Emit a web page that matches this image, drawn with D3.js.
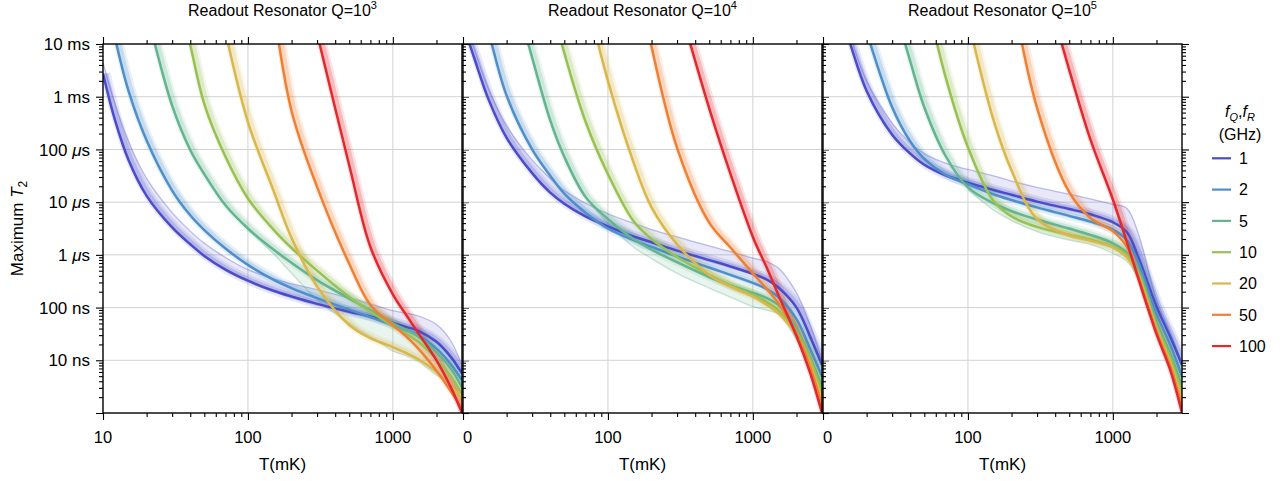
<!DOCTYPE html>
<html>
<head>
<meta charset="utf-8">
<script src="https://cdn.jsdelivr.net/npm/d3@7"></script>
<style>
  body { margin: 0; background: #fff; }
  svg { display: block; font-family: "Liberation Sans", Arial, sans-serif; }
  .grid { stroke: #d2d2d2; stroke-width: 1; }
  .ticks line { stroke: #000; stroke-width: 1.1; }
  .frame { fill: none; stroke: #000; stroke-width: 1.4; }
</style>
</head>
<body>
<script>
(function(){
    var temps = [10, 12, 15, 20, 30, 40, 50, 70, 100, 150, 200, 300, 500, 700, 1000, 1250, 1500, 2000, 2500, 3000];

    //qubit / resonator frequencies (GHz), one curve family each
    var freqs = [1, 2, 5, 10, 20, 50, 100];
    var colors = ["#4a4cc9", "#4f8fc9", "#63b48f", "#98c154", "#d9b74c", "#ee8035", "#e2292d"];

    //resonator Q exponent of each panel
    var qExp = ["3", "4", "5"];

    //log10 of maximum T2 (s), one row per frequency, aligned with temps
    var q3 = [
        [-2.56, -3.41, -4.20, -4.88, -5.48, -5.80, -6.02, -6.28, -6.49, -6.68, -6.79, -6.93, -7.08, -7.17, -7.29, -7.37, -7.44, -7.65, -7.93, -8.25],
        [null, -1.84, -2.89, -3.83, -4.78, -5.25, -5.53, -5.88, -6.19, -6.47, -6.63, -6.82, -7.04, -7.18, -7.33, -7.43, -7.52, -7.78, -8.07, -8.38],
        [null, null, null, -1.37, -3.17, -4.01, -4.47, -5.06, -5.50, -5.90, -6.15, -6.48, -6.83, -7.05, -7.30, -7.43, -7.55, -7.85, -8.15, -8.51],
        [null, null, null, null, -0.60, -2.02, -3.14, -4.14, -4.93, -5.52, -5.87, -6.30, -6.80, -7.08, -7.35, -7.51, -7.65, -7.98, -8.30, -8.64],
        [null, null, null, null, null, null, null, -1.77, -3.48, -4.78, -5.68, -6.60, -7.33, -7.58, -7.75, -7.87, -7.98, -8.22, -8.47, -8.75],
        [null, null, null, null, null, null, null, null, null, -1.27, -3.27, -4.71, -6.17, -6.95, -7.33, -7.56, -7.78, -8.20, -8.58, -8.91],
        [null, null, null, null, null, null, null, null, null, null, null, -1.80, -4.30, -5.85, -6.75, -7.16, -7.49, -8.00, -8.50, -9.00]
    ];
    var q4 = [
        [-1.62, -2.28, -3.05, -3.78, -4.45, -4.82, -5.03, -5.27, -5.46, -5.65, -5.76, -5.92, -6.10, -6.22, -6.36, -6.47, -6.62, -7.00, -7.57, -8.09],
        [null, -0.83, -1.77, -2.98, -4.00, -4.50, -4.84, -5.20, -5.50, -5.72, -5.85, -6.03, -6.24, -6.38, -6.53, -6.65, -6.80, -7.22, -7.80, -8.31],
        [null, null, null, -0.50, -2.26, -3.45, -4.14, -4.90, -5.32, -5.70, -5.90, -6.14, -6.42, -6.58, -6.72, -6.82, -6.95, -7.40, -7.96, -8.50],
        [null, null, null, null, null, -1.12, -2.17, -3.47, -4.47, -5.36, -5.70, -6.04, -6.38, -6.58, -6.76, -6.90, -7.05, -7.46, -8.00, -8.63],
        [null, null, null, null, null, null, null, -1.00, -2.70, -4.24, -5.10, -5.80, -6.38, -6.60, -6.79, -6.95, -7.11, -7.52, -8.09, -8.75],
        [null, null, null, null, null, null, null, null, null, -0.30, -2.05, -3.97, -5.39, -5.86, -6.35, -6.65, -6.92, -7.49, -8.15, -8.88],
        [null, null, null, null, null, null, null, null, null, null, null, -1.12, -3.22, -4.46, -5.66, -6.25, -6.76, -7.54, -8.26, -9.00]
    ];
    var q5 = [
        [null, -1.13, -1.90, -2.89, -3.72, -4.08, -4.29, -4.49, -4.63, -4.77, -4.86, -4.99, -5.13, -5.23, -5.38, -5.57, -6.05, -6.98, -7.57, -8.09],
        [null, null, -0.70, -1.78, -3.20, -3.85, -4.18, -4.48, -4.66, -4.85, -4.96, -5.10, -5.26, -5.37, -5.52, -5.72, -6.15, -7.12, -7.72, -8.31],
        [null, null, null, null, -1.12, -2.33, -3.20, -4.12, -4.72, -5.02, -5.17, -5.33, -5.50, -5.62, -5.78, -5.96, -6.28, -7.27, -7.88, -8.50],
        [null, null, null, null, null, null, -0.94, -2.62, -3.96, -4.98, -5.27, -5.47, -5.62, -5.71, -5.84, -6.00, -6.35, -7.35, -7.97, -8.63],
        [null, null, null, null, null, null, null, null, -1.52, -3.44, -4.40, -5.32, -5.63, -5.73, -5.86, -6.05, -6.40, -7.40, -8.05, -8.75],
        [null, null, null, null, null, null, null, null, null, null, -0.95, -3.21, -4.81, -5.30, -5.55, -5.85, -6.42, -7.45, -8.13, -8.88],
        [null, null, null, null, null, null, null, null, null, null, null, -0.34, -2.49, -3.81, -4.95, -5.76, -6.45, -7.50, -8.20, -9.00]
    ];

    //upper edge of the faint 1 GHz curves and lower edge of the faint 5 GHz curves
    var hazeTop3 = [-2.35, -3.10, -3.85, -4.55, -5.20, -5.55, -5.78, -6.05, -6.28, -6.45, -6.55, -6.66, -6.82, -6.93, -7.06, -7.11, -7.16, -7.32, -7.62, -8.10];
    var hazeTop4 = [-1.50, -2.10, -2.85, -3.55, -4.20, -4.55, -4.78, -5.02, -5.22, -5.40, -5.52, -5.66, -5.83, -5.94, -6.06, -6.13, -6.25, -6.72, -7.35, -8.00];
    var hazeTop5 = [null, -1.00, -1.75, -2.70, -3.50, -3.88, -4.08, -4.26, -4.38, -4.50, -4.60, -4.72, -4.85, -4.94, -5.04, -5.12, -5.60, -6.85, -7.48, -8.05];
    var hazeLow3 = [null, null, null, null, null, null, null, null, -5.52, -5.98, -6.35, -6.85, -7.30, -7.55, -7.82, -7.92, -8.02, -8.28, -8.45, -8.65];
    var hazeLow4 = [null, null, null, null, null, null, null, -4.92, -5.40, -5.85, -6.07, -6.35, -6.63, -6.80, -6.98, -7.05, -7.12, -7.60, -8.10, -8.60];
    var hazeLow5 = [null, null, null, null, null, null, null, null, -4.76, -5.15, -5.35, -5.56, -5.72, -5.80, -5.97, -6.12, -6.45, -7.40, -8.00, -8.60];

    var panelData = [q3, q4, q5];
    var hazeTop = [hazeTop3, hazeTop4, hazeTop5];
    var hazeLow = [hazeLow3, hazeLow4, hazeLow5];

    //axis ticks and labels
    var xMajor = [10, 100, 1000];
    var xMajorLabels = ["10", "100", "1000"];
    var yMajor = [1e-2, 1e-3, 1e-4, 1e-5, 1e-6, 1e-7, 1e-8];
    var yLabelNum = ["10", "1", "100", "10", "1", "100", "10"];
    var yLabelUnit = ["ms", "ms", "\u03bcs", "\u03bcs", "\u03bcs", "ns", "ns"];

    var width = 1282, height = 481;
    var plotTop = 44, plotBottom = 413, panelW = 359;
    var panelX = [103, 463, 823];

    var svg = d3.select("body").append("svg")
        .attr("width", width)
        .attr("height", height);

    var yScale = d3.scaleLog()
        .domain([1e-9, 1e-2])
        .range([plotBottom, plotTop]);

    var yMinor = yScale.ticks().filter(function(v){
        return Math.abs(Math.log10(v) - Math.round(Math.log10(v))) > 1e-6;
    });

    var defs = svg.append("defs");

    panelData.forEach(function(rows, p){
        var x0 = panelX[p];
        var xScale = d3.scaleLog()
            .domain([10, 3000])
            .range([x0, x0 + panelW]);

        var xMinor = xScale.ticks().filter(function(v){
            return xMajor.indexOf(v) < 0 && v < 3000;
        });

        defs.append("clipPath").attr("id", "clip" + p)
            .append("rect")
            .attr("x", x0).attr("y", plotTop)
            .attr("width", panelW).attr("height", plotBottom - plotTop);
        defs.append("clipPath").attr("id", "lab" + p)
            .append("rect")
            .attr("x", x0).attr("y", plotBottom)
            .attr("width", panelW + 40).attr("height", 40);

        var panel = svg.append("g").attr("class", "panel");

        //grid lines
        panel.selectAll(".vgrid")
            .data([100, 1000])
            .enter()
            .append("line")
            .attr("class", "grid")
            .attr("x1", function(d){ return xScale(d); })
            .attr("x2", function(d){ return xScale(d); })
            .attr("y1", plotTop).attr("y2", plotBottom);
        panel.selectAll(".hgrid")
            .data(yMajor.slice(1))
            .enter()
            .append("line")
            .attr("class", "grid")
            .attr("x1", x0).attr("x2", x0 + panelW)
            .attr("y1", function(d){ return yScale(d); })
            .attr("y2", function(d){ return yScale(d); });

        var curve = d3.curveCatmullRom.alpha(0.5);
        var yOf = function(v){ return yScale(Math.pow(10, v)); };

        var line = d3.line()
            .x(function(d){ return xScale(d.t); })
            .y(function(d){ return yOf(d.v); })
            .curve(curve);

        var series = rows.map(function(r, i){
            return {
                i: i,
                pts: temps.map(function(t, k){ return {t: t, v: r[k]}; })
                    .filter(function(d){ return d.v !== null; })
            };
        });

        var curves = panel.append("g").attr("clip-path", "url(#clip" + p + ")");

        //faint spread of the 1 GHz family (above) and 5 GHz family (below)
        var area = d3.area()
            .x(function(d){ return xScale(d.t); })
            .y0(function(d){ return yOf(d.a); })
            .y1(function(d){ return yOf(d.b); })
            .curve(curve);
        var bands = [
            {row: 0, edge: hazeTop[p], color: colors[0], op: 0.13},
            {row: 2, edge: hazeLow[p], color: colors[2], op: 0.15}
        ];
        bands.forEach(function(b){
            var pts = temps.map(function(t, k){
                return {t: t, a: rows[b.row][k], b: b.edge[k]};
            }).filter(function(d){ return d.a !== null && d.b !== null; });
            curves.append("path")
                .attr("d", area(pts))
                .style("fill", b.color)
                .style("fill-opacity", b.op);
            curves.append("path")
                .attr("d", line(pts.map(function(d){ return {t: d.t, v: d.b}; })))
                .style("fill", "none")
                .style("stroke", b.color)
                .style("stroke-width", 1.3)
                .style("stroke-opacity", 0.35);
        });

        //lighter spread of every family, leaning to the warm side like the faint curves
        var haloG = curves.append("g").attr("transform", "translate(2.5,0)");
        haloG.selectAll(".halo")
            .data(series)
            .enter()
            .append("path")
            .attr("class", "halo")
            .attr("d", function(d){ return line(d.pts); })
            .style("fill", "none")
            .style("stroke", function(d){ return colors[d.i]; })
            .style("stroke-width", 10)
            .style("stroke-opacity", 0.13)
            .style("stroke-linejoin", "round");
        haloG.selectAll(".halo2")
            .data(series)
            .enter()
            .append("path")
            .attr("class", "halo2")
            .attr("d", function(d){ return line(d.pts); })
            .style("fill", "none")
            .style("stroke", function(d){ return colors[d.i]; })
            .style("stroke-width", 5.5)
            .style("stroke-opacity", 0.22);

        curves.selectAll(".curve")
            .data(series)
            .enter()
            .append("path")
            .attr("class", "curve")
            .attr("d", function(d){ return line(d.pts); })
            .style("fill", "none")
            .style("stroke", function(d){ return colors[d.i]; })
            .style("stroke-width", 2.5);

        //ticks
        var noLabel = function(){ return ""; };
        function tickGroup(axis, tx, ty){
            var g = panel.append("g")
                .attr("class", "ticks")
                .attr("transform", "translate(" + tx + "," + ty + ")")
                .call(axis);
            g.select(".domain").remove();
            g.selectAll("text").remove();
        }
        tickGroup(d3.axisBottom(xScale).tickValues(xMajor).tickSize(7).tickFormat(noLabel), 0, plotBottom);
        tickGroup(d3.axisBottom(xScale).tickValues(xMinor).tickSize(4).tickFormat(noLabel), 0, plotBottom);
        tickGroup(d3.axisTop(xScale).tickValues(xMajor).tickSize(7).tickFormat(noLabel), 0, plotTop);
        tickGroup(d3.axisTop(xScale).tickValues(xMinor).tickSize(4).tickFormat(noLabel), 0, plotTop);
        tickGroup(d3.axisRight(yScale).tickValues(yMajor.concat([1e-9])).tickSize(7).tickFormat(noLabel), x0 + panelW, 0);
        tickGroup(d3.axisRight(yScale).tickValues(yMinor).tickSize(4).tickFormat(noLabel), x0 + panelW, 0);
        if (p === 0){
            tickGroup(d3.axisLeft(yScale).tickValues(yMajor.concat([1e-9])).tickSize(7).tickFormat(noLabel), x0, 0);
            tickGroup(d3.axisLeft(yScale).tickValues(yMinor).tickSize(4).tickFormat(noLabel), x0, 0);
        }

        //frame
        panel.append("rect")
            .attr("class", "frame")
            .attr("x", x0).attr("y", plotTop)
            .attr("width", panelW).attr("height", plotBottom - plotTop);

        //x tick labels (the "10" of the later panels is clipped by the panel before)
        var labels = panel.append("g");
        if (p > 0) labels.attr("clip-path", "url(#lab" + p + ")");
        labels.selectAll("text")
            .data(xMajor)
            .enter()
            .append("text")
            .attr("x", function(d){ return xScale(d); })
            .attr("y", 443)
            .attr("text-anchor", "middle")
            .style("font-size", "16.5px")
            .text(function(d, i){ return xMajorLabels[i]; });

        panel.append("text")
            .attr("x", x0 + panelW / 2)
            .attr("y", 470)
            .attr("text-anchor", "middle")
            .style("font-size", "17px")
            .text("T(mK)");

        //panel title
        var title = panel.append("text")
            .attr("x", x0 + panelW / 2)
            .attr("y", 15.5)
            .attr("text-anchor", "middle")
            .style("font-size", "16px");
        title.append("tspan").text("Readout Resonator Q=10");
        title.append("tspan")
            .attr("dy", -6.5)
            .style("font-size", "11px")
            .text(qExp[p]);
    });

    //y tick labels
    var yLab = svg.append("g");
    yMajor.forEach(function(v, i){
        var t = yLab.append("text")
            .attr("x", 90)
            .attr("y", yScale(v))
            .attr("dy", "0.36em")
            .attr("text-anchor", "end")
            .style("font-size", "17px");
        t.append("tspan").text(yLabelNum[i] + " ");
        if (yLabelUnit[i].charAt(0) === "\u03bc"){
            t.append("tspan").style("font-style", "italic").text("\u03bc");
            t.append("tspan").text("s");
        } else {
            t.append("tspan").text(yLabelUnit[i]);
        }
    });

    //y axis title
    var yTitle = svg.append("text")
        .attr("transform", "translate(23," + ((plotTop + plotBottom) / 2) + ") rotate(-90)")
        .attr("text-anchor", "middle")
        .style("font-size", "17px");
    yTitle.append("tspan").text("Maximum ");
    yTitle.append("tspan").style("font-style", "italic").text("T");
    yTitle.append("tspan").attr("dy", 4).style("font-size", "12px").text("2");

    //legend
    var legend = svg.append("g");
    var lt = legend.append("text")
        .attr("x", 1240).attr("y", 117)
        .attr("text-anchor", "middle")
        .style("font-size", "16px");
    lt.append("tspan").style("font-style", "italic").text("f");
    lt.append("tspan").attr("dy", 4).style("font-size", "11px").style("font-style", "italic").text("Q");
    lt.append("tspan").attr("dy", -4).text(",");
    lt.append("tspan").style("font-style", "italic").text("f");
    lt.append("tspan").attr("dy", 4).style("font-size", "11px").style("font-style", "italic").text("R");
    legend.append("text")
        .attr("x", 1240).attr("y", 140)
        .attr("text-anchor", "middle")
        .style("font-size", "16px")
        .text("(GHz)");

    var items = legend.selectAll(".item")
        .data(freqs)
        .enter()
        .append("g")
        .attr("class", "item")
        .attr("transform", function(d, i){ return "translate(0," + (158.3 + i * 31.3) + ")"; });
    items.append("line")
        .attr("x1", 1212).attr("x2", 1231)
        .style("stroke", function(d, i){ return colors[i]; })
        .style("stroke-width", 2.2);
    items.append("text")
        .attr("x", 1239)
        .attr("dy", "0.36em")
        .style("font-size", "16px")
        .text(function(d){ return d; });
})();
</script>
</body>
</html>
